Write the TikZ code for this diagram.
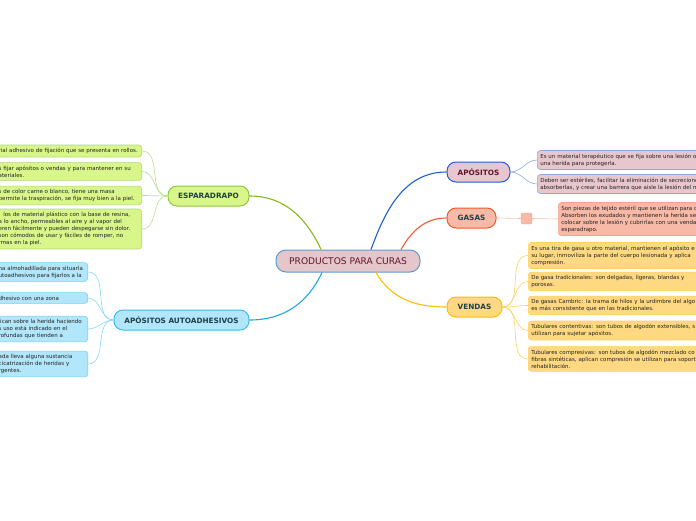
\documentclass[tikz,border=0pt]{standalone}
\usepackage{fontspec}
\setmainfont{DejaVu Sans}
\usetikzlibrary{calc}

\definecolor{cenfill}{HTML}{E4C6CB}
\definecolor{cendraw}{HTML}{5B9BD5}
\definecolor{maroon}{HTML}{5E1530}
\definecolor{darkteal}{HTML}{1F3F4A}
\definecolor{leaftext}{HTML}{222222}
\definecolor{espfill}{HTML}{D8F68A}
\definecolor{espdraw}{HTML}{8DC63F}
\definecolor{espline}{HTML}{86B91A}
\definecolor{autfill}{HTML}{B2E6FA}
\definecolor{autdraw}{HTML}{3BBBEE}
\definecolor{autline}{HTML}{1CA8E6}
\definecolor{apofill}{HTML}{E8C6CD}
\definecolor{apodraw}{HTML}{1D5FD1}
\definecolor{apoleaf}{HTML}{8EA9E2}
\definecolor{gasfill}{HTML}{F8B9A6}
\definecolor{gasdraw}{HTML}{F05A2A}
\definecolor{gasleaf}{HTML}{F4A38D}
\definecolor{venfill}{HTML}{FFD982}
\definecolor{vendraw}{HTML}{FFBD00}
\definecolor{venleaf}{HTML}{FFD060}

\tikzset{
  central/.style={draw=cendraw, fill=cenfill, line width=1pt, rounded corners=10pt,
    minimum width=144pt, minimum height=22pt, inner sep=0pt, text=maroon,
    font=\fontsize{9.1}{10}\selectfont},
  topic/.style={draw, line width=1pt, rounded corners=9pt, minimum height=20pt,
    inner sep=0pt, text=darkteal, font=\fontsize{7.3}{8}\selectfont\bfseries},
  leaf/.style={draw, line width=0.6pt, rounded corners=3pt, inner xsep=3pt,
    inner ysep=3.2pt, align=left, text=leaftext, font=\fontsize{5.5}{7}\selectfont},
  mainline/.style={line width=1.1pt},
  leafline/.style={line width=0.6pt},
}

\begin{document}
\begin{tikzpicture}[x=1pt, y=1pt]

  \useasboundingbox (0,0) rectangle (696,-520);
  \clip (0,0) rectangle (696,-520);

  % === central topic ===
  \node[central] (cen) at (348,-261) {PRODUCTOS PARA CURAS};

  % === main topics ===
  \node[topic, draw=espdraw, fill=espfill, minimum width=81pt] (esp) at (208.5,-196) {ESPARADRAPO};
  \node[topic, draw=autdraw, fill=autfill, minimum width=135pt] (aut) at (181.5,-320) {APÓSITOS AUTOADHESIVOS};
  \node[topic, draw=apodraw, fill=apofill, minimum width=63pt, text=maroon] (apo) at (478.5,-172) {APÓSITOS};
  \node[topic, draw=gasdraw, fill=gasfill, minimum width=49pt] (gas) at (471.5,-218) {GASAS};
  \node[topic, draw=vendraw, fill=venfill, minimum width=55pt] (ven) at (474.5,-307) {VENDAS};

  % main connectors
  \draw[mainline, espline] ($(cen.north)+(-27,0)$) to[out=115,in=0] (esp.east);
  \draw[mainline, autline] ($(cen.south)+(-26,0)$) to[out=-115,in=0] (aut.east);
  \draw[mainline, apodraw] ($(cen.north)+(23,0)$) to[out=70,in=180] (apo.west);
  \draw[mainline, gasdraw] ($(cen.north)+(53,0)$) to[out=60,in=180] (gas.west);
  \draw[mainline, vendraw] ($(cen.south)+(28,0)$) to[out=-60,in=180] (ven.west);

  % === ESPARADRAPO leaves (cut at left edge) ===
  \node[leaf, draw=espdraw!70, fill=espfill, anchor=east, text width=140pt] (e1) at (142,-151)
    {rial adhesivo de fijación que se presenta en rollos.};
  \node[leaf, draw=espdraw!70, fill=espfill, anchor=east, text width=140pt] (e2) at (142,-171.5)
    {s fijar apósitos o vendas y para mantener en su\\ateriales.};
  \node[leaf, draw=espdraw!70, fill=espfill, anchor=east, text width=140pt] (e3) at (142,-195.5)
    {s de color carne o blanco, tiene una masa\\permite la traspiración, se fija muy bien a la piel.};
  \node[leaf, draw=espdraw!70, fill=espfill, anchor=east, text width=140pt] (e4) at (142,-229)
    {: los de material plástico con la base de resina,\\a lo ancho, permeables al aire y al vapor del\\eren fácilmente y pueden despegarse sin dolor.\\ son cómodos de usar y fáciles de romper, no\\rmas en la piel.};
  \foreach \n in {e1,e2,e3,e4}
    \draw[leafline, espdraw!60] (esp.west) to[out=180,in=0] (\n.east);

  % === APÓSITOS AUTOADHESIVOS leaves (cut at left edge) ===
  \node[leaf, draw=autdraw!70, fill=autfill, anchor=east, text width=86pt] (a1) at (88,-272)
    {na almohadillada para situarla\\utoadhesivos para fijarlos a la};
  \node[leaf, draw=autdraw!70, fill=autfill, anchor=east, text width=86pt] (a2) at (88,-298)
    {dhesivo con una zona};
  \node[leaf, draw=autdraw!70, fill=autfill, anchor=east, text width=86pt] (a3) at (88,-329)
    {lican sobre la herida haciendo\\s uso está indicado en el\\rofundas que tienden a};
  \node[leaf, draw=autdraw!70, fill=autfill, anchor=east, text width=86pt] (a4) at (88,-364)
    {ada lleva alguna sustancia\\cicatrización de heridas y\\rgentes.};
  \foreach \n in {a1,a2,a3,a4}
    \draw[leafline, autdraw!60] (aut.west) to[out=180,in=0] (\n.east);

  % === APÓSITOS leaves (cut at right edge) ===
  \node[leaf, draw=apoleaf, fill=apofill, anchor=west, text width=230pt] (p1) at (537,-160)
    {Es un material terapéutico que se fija sobre una lesión o\\una herida para protegerla.};
  \node[leaf, draw=apoleaf, fill=apofill, anchor=west, text width=230pt] (p2) at (537,-184)
    {Deben ser estériles, facilitar la eliminación de secreciones\\absorberlas, y crear una barrera que aisle la lesión del m};
  \foreach \n in {p1,p2}
    \draw[leafline, apoleaf] (apo.east) to[out=0,in=180] (\n.west);

  % === GASAS leaf ===
  \node[draw=gasleaf, fill=gasfill, rounded corners=2pt, minimum size=11pt, inner sep=0pt] (gsq) at (526.5,-218.5) {};
  \node[leaf, draw=gasleaf, fill=gasfill, anchor=west, text width=230pt] (g1) at (558,-219)
    {Son piezas de tejido estéril que se utilizan para c\\Absorben los exudados y mantienen la herida se\\colocar sobre la lesión y cubrirlas con una venda\\esparadrapo.};
  \draw[leafline, gasleaf!70] (gas.east) -- (gsq.west);
  \draw[leafline, gasleaf!70] (gsq.east) -- (g1.west);

  % === VENDAS leaves (cut at right edge) ===
  \node[leaf, draw=venleaf, fill=venfill, anchor=west, text width=230pt] (v1) at (528,-255.5)
    {Es una tira de gasa u otro material, mantienen el apósito e\\su lugar, inmoviliza la parte del cuerpo lesionada y aplica\\compresión.};
  \node[leaf, draw=venleaf, fill=venfill, anchor=west, text width=230pt] (v2) at (528,-281.5)
    {De gasa tradicionales: son delgadas, ligeras, blandas y\\porosas.};
  \node[leaf, draw=venleaf, fill=venfill, anchor=west, text width=230pt] (v3) at (528,-305.5)
    {De gasas Cambric: la trama de hilos y la urdimbre del algo\\es más consistente que en las tradicionales.};
  \node[leaf, draw=venleaf, fill=venfill, anchor=west, text width=230pt] (v4) at (528,-330.5)
    {Tubulares contentivas: son tubos de algodón extensibles, s\\utilizan para sujetar apósitos.};
  \node[leaf, draw=venleaf, fill=venfill, anchor=west, text width=230pt] (v5) at (528,-359)
    {Tubulares compresivas: son tubos de algodón mezclado co\\fibras sintéticas, aplican compresión se utilizan para soport\\rehabilitación.};
  \foreach \n in {v1,v2,v3,v4,v5}
    \draw[leafline, venleaf] (ven.east) to[out=0,in=180] (\n.west);

\end{tikzpicture}
\end{document}
